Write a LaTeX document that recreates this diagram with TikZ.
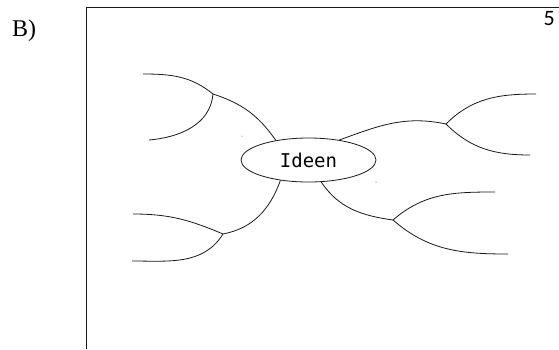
\documentclass[tikz,border=0pt]{standalone}
\usepackage{fontspec}
\setmainfont{Liberation Serif}
\newfontfamily\labelfont{Carlito}
\newfontfamily\ideafont{DejaVu Sans Mono}
\usetikzlibrary{shapes.geometric}

\tikzset{
  branch/.style={draw=black!90, line width=0.8pt},
  framepart/.style={draw=black!90, line width=0.8pt},
  bubble/.style={ellipse, draw=black!90, line width=0.8pt, inner sep=0pt,
    minimum width=135pt, minimum height=44pt, font=\ideafont\fontsize{19}{19}\selectfont},
  speck/.style={fill=black!70, inner sep=0pt, minimum size=1pt, circle}
}

\begin{document}
\begin{tikzpicture}[x=1pt, y=-1pt]
  \useasboundingbox (0,0) rectangle (559,349);

  % frame edges (top and left)
  \coordinate (ftl) at (86,7);
  \coordinate (ftr) at (559,7);
  \coordinate (fbl) at (86,349);
  \draw[framepart] (fbl) -- (ftl) -- (ftr);

  % labels
  \node[anchor=base west, inner sep=0pt, font=\fontsize{24}{24}\selectfont] (tag) at (12,36) {B)};
  \node[anchor=base east, inner sep=0pt, font=\labelfont\fontsize{22}{22}\selectfont] (num) at (555,25) {5};

  % central idea
  \node[bubble] (idee) at (308.5,160) {Ideen};

  % junctions
  \coordinate (jUL) at (213,94);
  \coordinate (jLL) at (223,234);
  \coordinate (jUR) at (446,124);
  \coordinate (jLR) at (393,220);

  % branch ends
  \coordinate (eUL1) at (143,74);
  \coordinate (eUL2) at (149,140);
  \coordinate (eLL1) at (133,214);
  \coordinate (eLL2) at (132,261);
  \coordinate (eUR1) at (536,94);
  \coordinate (eUR2) at (530,155);
  \coordinate (eLR1) at (495,192);
  \coordinate (eLR2) at (508,254);

  % trunks from the idea
  \draw[branch] (idee.149) to[out=125, in=-18] (jUL);
  \draw[branch] (idee.216) to[out=250, in=11] (jLL);
  \draw[branch] (idee.33)  to[out=20,  in=168] (jUR);
  \draw[branch] (idee.300) to[out=-56, in=172] (jLR);

  % forks
  \draw[branch] (jUL) to[out=141, in=0] (eUL1);
  \draw[branch] (jUL) to[out=265, in=5] (eUL2);
  \draw[branch] (jLL) to[out=157, in=0] (eLL1);
  \draw[branch] (jLL) to[out=238, in=0] (eLL2);
  \draw[branch] (jUR) to[out=45,  in=180] (eUR1);
  \draw[branch] (jUR) to[out=-45, in=180] (eUR2);
  \draw[branch] (jLR) to[out=41,  in=180] (eLR1);
  \draw[branch] (jLR) to[out=-41, in=180] (eLR2);

  % stray specks
  \node[speck] (s1) at (242,136) {};
  \node[speck] (s2) at (376,182) {};
\end{tikzpicture}
\end{document}
